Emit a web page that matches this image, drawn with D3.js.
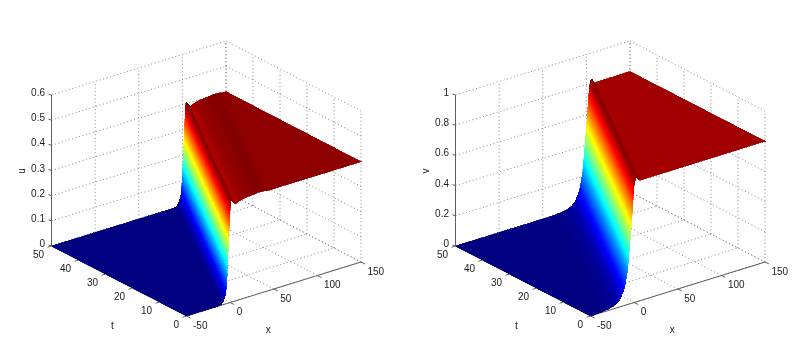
<!DOCTYPE html>
<html>
<head>
<meta charset="utf-8">
<script src="https://cdn.jsdelivr.net/npm/d3@7"></script>
<style>html,body{margin:0;padding:0;background:#fff}svg{display:block;filter:blur(0.4px)}text{font-family:"Liberation Sans",Arial,sans-serif;fill:#1c1c1c}</style>
</head>
<body>
<svg id="chart" width="797" height="353"></svg>
<script>
const xTicks = [-50, 0, 50, 100, 150];
const tTicks = [0, 10, 20, 30, 40, 50];
const uTicks = [0, 0.1, 0.2, 0.3, 0.4, 0.5, 0.6];
const vTicks = [0, 0.2, 0.4, 0.6, 0.8, 1];
const uTickLabels = ["0", "0.1", "0.2", "0.3", "0.4", "0.5", "0.6"];
const vTickLabels = ["0", "0.2", "0.4", "0.6", "0.8", "1"];
const frontSpeed = 2.07;
const uXi = [-170,-14,-10,-8,-6.5,-5.2,-4.4,-3.5,-2.5,-1.5,-0.6,0,0.6,1.2,2.5,4,5.7,8,12,17,21,26,32,38,44,160];
const uVal = [0,0,0.003,0.012,0.025,0.04,0.065,0.11,0.198,0.27,0.33,0.375,0.403,0.405,0.399,0.39,0.385,0.388,0.394,0.397,0.399,0.4,0.403,0.402,0.3985,0.3985];
const vXi = [-170,-46,-38,-30,-25,-20,-15.5,-11,-7.8,-6,-4,-2.5,-1,0,1.7,3,4.5,6,8,160];
const vVal = [0,0,0.003,0.008,0.015,0.027,0.055,0.12,0.22,0.33,0.47,0.58,0.7,0.78,0.822,0.825,0.81,0.798,0.797,0.8];
const jetStops = [0, 0.125, 0.375, 0.625, 0.875, 1];
const jetColors = ["#000080", "#0000ff", "#00ffff", "#ffff00", "#ff0000", "#800000"];

const svg = d3.select("#chart");

function panel(o) {
  const g = svg.append("g").attr("transform", `translate(${o.dx},0)`);
  const x0 = 186.5, y0 = 316;
  const xPx = d3.scaleLinear().domain([-50, 150]).range([0, 174.5]);
  const xPy = d3.scaleLinear().domain([-50, 150]).range([0, -54]);
  const tPx = d3.scaleLinear().domain([0, 50]).range([0, -135]);
  const tPy = d3.scaleLinear().domain([0, 50]).range([0, -70]);
  const zPy = d3.scaleLinear().domain([0, o.zMax]).range([0, -151]);
  const proj = (x, t, z) => [x0 + xPx(x) + tPx(t), y0 + xPy(x) + tPy(t) + zPy(z)];
  const line = (a, b) => "M" + a.map(n => n.toFixed(2)).join(",") + "L" + b.map(n => n.toFixed(2)).join(",");

  // grid
  const grid = [];
  const zM = o.zMax;
  xTicks.forEach(x => { grid.push(line(proj(x, 50, 0), proj(x, 50, zM))); grid.push(line(proj(x, 0, 0), proj(x, 50, 0))); });
  tTicks.forEach(t => { grid.push(line(proj(150, t, 0), proj(150, t, zM))); grid.push(line(proj(-50, t, 0), proj(150, t, 0))); });
  o.zTicks.forEach(z => { grid.push(line(proj(-50, 50, z), proj(150, 50, z))); grid.push(line(proj(150, 50, z), proj(150, 0, z))); });
  g.append("path").attr("d", grid.join("")).attr("fill", "none").attr("stroke", "#777")
    .attr("stroke-width", 0.9).attr("stroke-dasharray", "1 2.6");

  // axes
  const ax = "#5e5e5e";
  const axes = [line(proj(-50, 50, 0), proj(-50, 50, zM)), line(proj(-50, 0, 0), proj(150, 0, 0)), line(proj(-50, 50, 0), proj(-50, 0, 0))];
  xTicks.forEach(x => { const p = proj(x, 0, 0); axes.push(line(p, [p[0] + 4, p[1] + 2])); });
  tTicks.forEach(t => { const p = proj(-50, t, 0); axes.push(line(p, [p[0] - 4, p[1] + 1.3])); });
  o.zTicks.forEach(z => { const p = proj(-50, 50, z); axes.push(line(p, [p[0] - 3, p[1] - 1])); });
  g.append("path").attr("d", axes.join("")).attr("fill", "none").attr("stroke", ax).attr("stroke-width", 1);

  // surface
  const prof = d3.scaleLinear().domain(o.xi).range(o.val);
  const jet = d3.scaleLinear().domain(jetStops).range(jetColors).clamp(true);
  const col = z => jet(z / o.cMax);
  const steps = d3.range(165, 12, -0.5).concat(d3.range(12, -20, -0.05), d3.range(-20, -170.5, -0.5));
  const ends = xi => [Math.max(0, (-50 - xi) / frontSpeed), Math.min(50, (150 - xi) / frontSpeed)];
  const surf = g.append("g").attr("shape-rendering", "crispEdges");
  for (let i = 0; i < steps.length - 1; i++) {
    const a = steps[i], b = steps[i + 1];
    const [a0, a1] = ends(a), [b0, b1] = ends(b);
    if (a0 > a1 && b0 > b1) continue;
    const ta0 = Math.min(a0, a1), ta1 = a1 < a0 ? a0 : a1;
    const pt = (xi, t) => proj(Math.min(150, Math.max(-50, xi + frontSpeed * t)), t, prof(xi));
    const pts = [pt(a, ta0), pt(a, ta1), pt(b, b1), pt(b, b0)];
    const c = col(prof((a + b) / 2));
    surf.append("path").attr("d", "M" + pts.map(p => p[0].toFixed(2) + "," + p[1].toFixed(2)).join("L") + "Z")
      .attr("fill", c).attr("stroke", c).attr("stroke-width", 0.7);
  }

  // tick labels
  const fs = 10;
  xTicks.forEach(x => { const p = proj(x, 0, 0);
    g.append("text").attr("x", p[0] + 6.5).attr("y", p[1] + 12.5).attr("font-size", fs).text(x); });
  tTicks.forEach(t => { const p = proj(-50, t, 0);
    g.append("text").attr("x", p[0] - 7.5).attr("y", p[1] + 12).attr("text-anchor", "end").attr("font-size", fs).text(t); });
  o.zTicks.forEach((z, i) => { const p = proj(-50, 50, z);
    g.append("text").attr("x", p[0] - 6.5).attr("y", p[1] + 1).attr("text-anchor", "end").attr("font-size", fs).text(o.zLabels[i]); });
  g.append("text").attr("transform", "translate(25,171) rotate(-90)").attr("text-anchor", "middle").attr("font-size", fs).text(o.zName);
  g.append("text").attr("x", 112.3).attr("y", 329).attr("text-anchor", "middle").attr("font-size", fs).text("t");
  g.append("text").attr("x", 268.3).attr("y", 333).attr("text-anchor", "middle").attr("font-size", fs).text("x");
}

panel({ dx: 0, zMax: 0.6, zTicks: uTicks, zLabels: uTickLabels, zName: "u", xi: uXi, val: uVal, cMax: 0.404 });
panel({ dx: 404, zMax: 1, zTicks: vTicks, zLabels: vTickLabels, zName: "v", xi: vXi, val: vVal, cMax: 0.826 });
</script>
</body>
</html>
